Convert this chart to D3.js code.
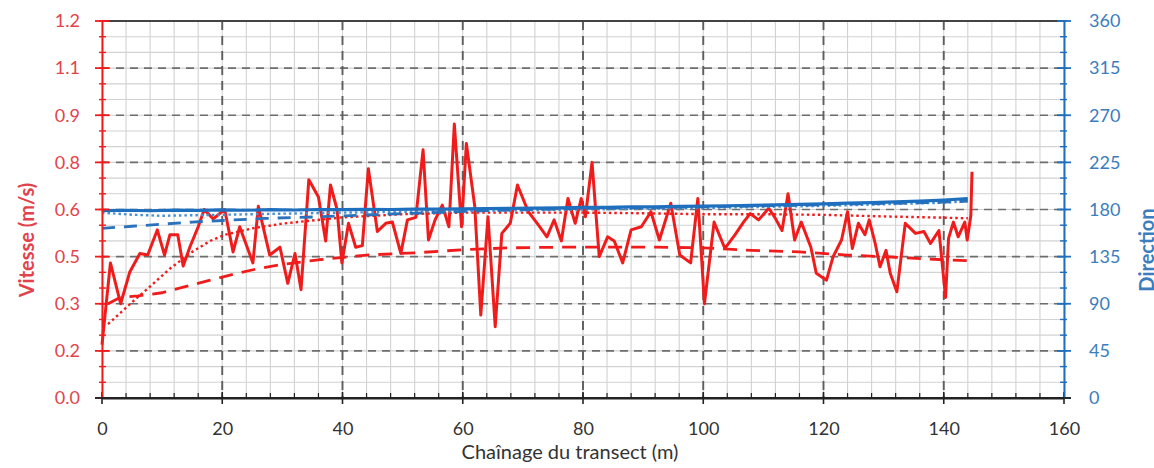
<!DOCTYPE html>
<html><head><meta charset="utf-8">
<script src="https://cdn.jsdelivr.net/npm/d3@7"></script>
<style>
html,body{margin:0;padding:0;background:#fff;overflow:hidden}
svg{display:block}
text{font-family:Lato,"Open Sans",sans-serif}
</style></head>
<body>
<svg id="c" width="1154" height="468"></svg>
<script>
// ---- data ----
const xTicks = [0,20,40,60,80,100,120,140,160];
const velTicks = [0,0.15,0.30,0.45,0.60,0.75,0.90,1.05,1.20];
const velTickLabels = ["0.0","0.2","0.3","0.5","0.6","0.8","0.9","1.1","1.2"];
const dirTicks = [0,45,90,135,180,225,270,315,360];

const velChain = [0,1.4,3.1,4.6,6.3,7.6,9.2,10.4,11.3,12.6,13.5,14.6,16,17,18.5,20.4,21.8,22.9,25.1,26,27.9,29.6,30.9,32.1,33.1,34.4,36,37.2,38,39.1,39.9,41,42.2,43.3,44.3,45.8,47.2,48.3,49.7,50.8,52.2,53.4,54.3,55.4,56.6,57.7,58.6,59.8,60.6,62,63,64.2,65.4,66.5,67.9,69.1,70.9,72.6,74,75.2,76.4,77.5,78.7,79.7,80.4,81.5,82.7,84.1,85.2,86.6,88,89.7,91.3,92.7,94.6,96.1,97.9,99.1,100.2,101.8,103.6,105.3,106.7,107.8,109.2,110.9,111.9,113.1,114.1,115.2,116.3,117.9,118.8,120.5,121.6,123,124,124.8,125.8,126.9,127.6,128.6,129.4,130.4,131.1,132.2,133.6,135.3,136.7,137.8,139.2,140.3,140.8,141.6,142.4,143.5,143.9,144.5,144.7];
const velocity = [0.17,0.43,0.30,0.40,0.46,0.455,0.535,0.455,0.52,0.52,0.42,0.48,0.545,0.60,0.57,0.60,0.465,0.545,0.43,0.61,0.455,0.48,0.365,0.46,0.345,0.695,0.64,0.50,0.678,0.60,0.43,0.556,0.48,0.485,0.73,0.53,0.556,0.56,0.46,0.567,0.575,0.79,0.503,0.567,0.614,0.545,0.872,0.545,0.81,0.61,0.264,0.577,0.227,0.524,0.556,0.678,0.593,0.55,0.513,0.567,0.50,0.635,0.556,0.635,0.577,0.75,0.45,0.513,0.50,0.43,0.535,0.545,0.593,0.503,0.62,0.455,0.43,0.635,0.30,0.56,0.476,0.52,0.56,0.587,0.567,0.604,0.575,0.533,0.65,0.503,0.56,0.48,0.397,0.375,0.45,0.503,0.593,0.476,0.556,0.52,0.567,0.492,0.418,0.47,0.397,0.338,0.556,0.524,0.53,0.492,0.533,0.32,0.508,0.56,0.513,0.56,0.503,0.58,0.72];

const velMeanChain = [1,3,6,10,14,18,22,26,30,36,44,52,60,68,76,84,92,100,108,116,124,132,140,144];
const velMean = [0.30,0.32,0.325,0.335,0.355,0.375,0.395,0.412,0.425,0.44,0.455,0.462,0.472,0.478,0.48,0.48,0.48,0.478,0.47,0.465,0.455,0.448,0.44,0.437];

const velDotChain = [1,5,8,11.5,15,18,20.5,25,30,40,50,60,70,80,90,100,110,120,130,140,144];
const velDot = [0.235,0.305,0.355,0.415,0.465,0.50,0.52,0.54,0.555,0.575,0.585,0.59,0.59,0.59,0.588,0.585,0.585,0.583,0.578,0.574,0.572];

const dirChain = [0,4,8,12,16,20,24,28,32,36,40,44,48,52,56,60,64,68,72,76,80,84,88,92,96,100,104,108,112,116,120,124,128,132,136,140,144];
const direction = [179,179.3,178.8,179.4,179.2,179.6,179.3,179.8,179.5,180,179.8,180.2,180,180.4,180.3,180.6,180.9,181,181.4,181.6,182,182.1,182.5,182.6,183,183.2,183.6,183.9,184.4,184.8,185.4,186,186.6,187.3,188,189,190.5];

const dirMeanChain = [0,5,10,15,20,27,36,45,55,65,80,100,120,140,144];
const dirMean = [162,164,166,168,169.5,171.5,173,175,177,179,181,182.5,184.5,187,188];

const dirDotChain = [0,5,10,15,20,30,40,60,80,100,120,140,144];
const dirDot = [177,175,174,174.5,175,176,177,178.5,180,181.5,183.5,186.5,188];

// ---- layout ----
const L = 102, R = 1064, T = 21, B = 398;
const RED = "#f01c1c", RED_TXT = "#e2434b", BLUE = "#1f6fbf", BLUE_TXT = "#3b7dbd";
const svg = d3.select("#c");
const x = d3.scaleLinear().domain([0,160]).range([L,R]);
const yV = d3.scaleLinear().domain([0,1.2]).range([B,T]);
const yD = d3.scaleLinear().domain([0,360]).range([B,T]);

// faint title, mostly above the visible area as in the reference
svg.append("text").attr("x",578).attr("y",0).attr("text-anchor","middle")
  .attr("font-size",18).attr("fill","#cccccc").text("Vitesse et direction du courant");

const g = svg.append("g");
// minor gridlines
const minorY = d3.range(0,1.2001,0.05);
g.selectAll(".mgy").data(minorY).join("line")
  .attr("x1",L).attr("x2",R).attr("y1",d=>yV(d)).attr("y2",d=>yV(d))
  .attr("stroke","#d2d2d2").attr("stroke-width",1.1);
const minorX = d3.range(0,160.01,4);
g.selectAll(".mgx").data(minorX).join("line")
  .attr("y1",T).attr("y2",B).attr("x1",d=>x(d)).attr("x2",d=>x(d))
  .attr("stroke","#d2d2d2").attr("stroke-width",1.1);
// major gridlines
g.selectAll(".Mgy").data(velTicks.slice(1,-1)).join("line")
  .attr("x1",L).attr("x2",R).attr("y1",d=>yV(d)).attr("y2",d=>yV(d))
  .attr("stroke","#6e6e6e").attr("stroke-width",1.7).attr("stroke-dasharray","8,6");
g.selectAll(".Mgx").data(xTicks.slice(1,-1)).join("line")
  .attr("y1",T).attr("y2",B).attr("x1",d=>x(d)).attr("x2",d=>x(d))
  .attr("stroke","#5e5e5e").attr("stroke-width",1.9).attr("stroke-dasharray","9,6");
// top border
g.append("line").attr("x1",L).attr("x2",R).attr("y1",T).attr("y2",T).attr("stroke","#444").attr("stroke-width",1.8);

// ---- series ----
const lineOf = (xs, ys, yScale) => d3.line().x((d,i)=>x(xs[i])).y((d,i)=>yScale(ys[i]))(ys);
const series = [
  {xs:velDotChain, ys:velDot, s:yV, c:RED, w:2.4, dash:"2.5,3"},
  {xs:velMeanChain, ys:velMean, s:yV, c:RED, w:2.8, dash:"14,9"},
  {xs:velChain, ys:velocity, s:yV, c:RED, w:3, dash:null},
  {xs:dirDotChain, ys:dirDot, s:yD, c:"#4a90d0", w:2.4, dash:"2.5,3"},
  {xs:dirMeanChain, ys:dirMean, s:yD, c:"#2a72bb", w:2.8, dash:"13,9"},
  {xs:dirChain, ys:direction, s:yD, c:BLUE, w:3.2, dash:null}
];
series.forEach(sr=>{
  svg.append("path").attr("d",lineOf(sr.xs,sr.ys,sr.s)).attr("fill","none")
    .attr("stroke",sr.c).attr("stroke-width",sr.w).attr("stroke-linejoin","round")
    .attr("stroke-dasharray",sr.dash);
});

// ---- axes ----
const fs = 18;
// x axis
const xa = svg.append("g").attr("transform",`translate(0,${B})`)
  .call(d3.axisBottom(x).tickValues(xTicks).tickFormat(d3.format("d")).tickSize(0).tickPadding(24));
xa.select(".domain").attr("stroke","#222").attr("stroke-width",1.8);
xa.selectAll("text").attr("font-size",fs).attr("fill","#333").attr("font-family","Lato,sans-serif");
svg.selectAll(".xmin").data(minorX).join("line")
  .attr("x1",d=>x(d)).attr("x2",d=>x(d)).attr("y1",B-5).attr("y2",B).attr("stroke","#222").attr("stroke-width",1.2);
svg.selectAll(".xmaj").data(xTicks).join("line")
  .attr("x1",d=>x(d)).attr("x2",d=>x(d)).attr("y1",B-6).attr("y2",B+6).attr("stroke","#222").attr("stroke-width",1.6);

// left axis
const la = svg.append("g").attr("transform",`translate(${L},0)`)
  .call(d3.axisLeft(yV).tickValues(velTicks).tickFormat((d,i)=>velTickLabels[i]).tickSize(0).tickPadding(22));
la.select(".domain").attr("stroke",RED).attr("stroke-width",2);
la.selectAll("text").attr("font-size",fs).attr("fill",RED_TXT).attr("font-family","Lato,sans-serif");
svg.selectAll(".lmin").data(minorY).join("line")
  .attr("x1",L-3).attr("x2",L+4).attr("y1",d=>yV(d)).attr("y2",d=>yV(d)).attr("stroke",RED).attr("stroke-width",1.4);
svg.selectAll(".lmaj").data(velTicks).join("line")
  .attr("x1",L-7).attr("x2",L+7).attr("y1",d=>yV(d)).attr("y2",d=>yV(d)).attr("stroke",RED).attr("stroke-width",1.8);

// right axis
const ra = svg.append("g").attr("transform",`translate(${R},0)`)
  .call(d3.axisRight(yD).tickValues(dirTicks).tickFormat(d3.format("d")).tickSize(0).tickPadding(25));
ra.select(".domain").attr("stroke",BLUE).attr("stroke-width",2);
ra.selectAll("text").attr("font-size",fs).attr("fill",BLUE_TXT).attr("font-family","Lato,sans-serif");
const dirMinor = d3.range(0,360.01,15);
svg.selectAll(".rmin").data(dirMinor).join("line")
  .attr("x1",R-4).attr("x2",R+3).attr("y1",d=>yD(d)).attr("y2",d=>yD(d)).attr("stroke",BLUE).attr("stroke-width",1.4);
svg.selectAll(".rmaj").data(dirTicks).join("line")
  .attr("x1",R-7).attr("x2",R+7).attr("y1",d=>yD(d)).attr("y2",d=>yD(d)).attr("stroke",BLUE).attr("stroke-width",1.8);
// bottom axis line and corner ticks
svg.append("line").attr("x1",L-7).attr("x2",L+7).attr("y1",B).attr("y2",B).attr("stroke","#222").attr("stroke-width",1.8);
svg.append("line").attr("x1",R-7).attr("x2",R+7).attr("y1",B).attr("y2",B).attr("stroke","#222").attr("stroke-width",1.8);
svg.append("line").attr("x1",L).attr("x2",R).attr("y1",B).attr("y2",B).attr("stroke","#222").attr("stroke-width",1.8);

// axis titles
svg.append("text").attr("transform","translate(34,240) rotate(-90)").attr("text-anchor","middle")
  .attr("font-size",20).attr("font-weight","bold").attr("fill",RED_TXT).text("Vitesse (m/s)");
svg.append("text").attr("transform","translate(1154,250) rotate(-90)").attr("text-anchor","middle")
  .attr("font-size",20).attr("font-weight","bold").attr("fill",BLUE_TXT).text("Direction");
svg.append("text").attr("x",570).attr("y",459).attr("text-anchor","middle")
  .attr("font-size",20).attr("fill","#333").text("Chaînage du transect (m)");
</script>
</body></html>
